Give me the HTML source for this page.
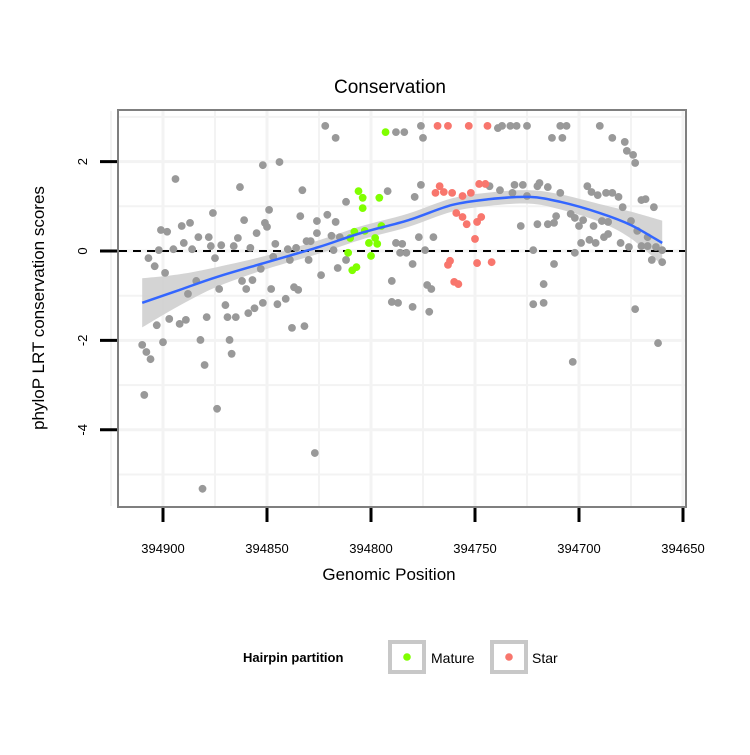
<!DOCTYPE html>
<html><head><meta charset="utf-8"><style>
body{margin:0;background:#fff;}
svg text{font-family:"Liberation Sans",sans-serif;}
</style></head><body>
<svg id="c" width="750" height="750" xmlns="http://www.w3.org/2000/svg">
<rect width="750" height="750" fill="#fff"/>
<g id="grid"></g>
<g id="band"></g>
<g id="pts"></g>
<g id="fit"></g>
<rect x="118" y="110" width="568" height="397" fill="none" stroke="#7f7f7f" stroke-width="2"/>
<g id="axes"></g>
<text x="390" y="93" font-size="19" text-anchor="middle">Conservation</text>
<text x="389" y="580" font-size="17" text-anchor="middle">Genomic Position</text>
<text transform="translate(44,308) rotate(-90)" font-size="17" text-anchor="middle">phyloP LRT conservation scores</text>
<g>
<text x="243" y="662" font-size="13" font-weight="bold">Hairpin partition</text>
<g>
<rect x="390" y="642" width="34" height="30" fill="#fff" stroke="#c8c8c8" stroke-width="4"/>
<circle cx="407" cy="657" r="3.8" fill="#80ff00"/>
<text x="431" y="663" font-size="14">Mature</text></g>
<g>
<rect x="492" y="642" width="34" height="30" fill="#fff" stroke="#c8c8c8" stroke-width="4"/>
<circle cx="509" cy="657" r="3.8" fill="#f8766d"/>
<text x="532" y="663" font-size="14">Star</text></g>
</g>
</svg>
<script>
const greyPos=[394822,394817,394788,394784,394894,394852,394844,394863,394833,394792,394812,394876,394849,394834,394861,394821,394826,394817,394901,394898,394891,394887,394851,394850,394855,394883,394878,394864,394890,394872,394866,394846,394826,394819,394815,394902,394895,394886,394877,394858,394840,394836,394831,394829,394907,394875,394847,394839,394830,394818,394904,394853,394812,394816,394899,394824,394884,394862,394857,394873,394860,394848,394837,394835,394888,394790,394788,394785,394786,394790,394787,394870,394852,394856,394859,394845,394841,394903,394897,394892,394889,394879,394869,394865,394838,394832,394910,394908,394906,394900,394882,394868,394867,394880,394909,394874,394827,394881,
394776,394775,394739,394737,394733,394730,394725,394709,394706,394690,394713,394708,394684,394678,394677,394674,394673,394776,394779,394743,394738,394731,394727,394720,394719,394715,394725,394732,394709,394696,394694,394691,394687,394684,394681,394679,394670,394668,394664,394728,394720,394715,394712,394711,394704,394702,394700,394698,394693,394689,394686,394675,394672,394667,394777,394770,394699,394695,394692,394688,394686,394680,394676,394670,394667,394663,394660,394665,394660,394783,394774,394722,394702,394780,394712,394773,394771,394717,394780,394772,394722,394717,394673,394662,394703];
const greyScore=[2.80,2.53,2.66,2.66,1.61,1.92,1.99,1.43,1.36,1.34,1.10,0.85,0.92,0.78,0.69,0.81,0.67,0.65,0.47,0.43,0.56,0.63,0.63,0.54,0.40,0.31,0.31,0.29,0.18,0.13,0.11,0.16,0.40,0.34,0.31,0.02,0.04,0.04,0.11,0.07,0.04,0.07,0.22,0.22,-0.16,-0.16,-0.13,-0.20,-0.20,0.02,-0.34,-0.40,-0.20,-0.38,-0.49,-0.54,-0.67,-0.67,-0.65,-0.85,-0.85,-0.85,-0.81,-0.87,-0.96,-0.67,0.18,0.16,-0.04,-1.14,-1.16,-1.21,-1.16,-1.28,-1.39,-1.19,-1.07,-1.66,-1.52,-1.63,-1.54,-1.48,-1.48,-1.48,-1.72,-1.68,-2.10,-2.26,-2.42,-2.04,-1.99,-1.99,-2.30,-2.55,-3.22,-3.53,-4.52,-5.32,
2.80,2.53,2.75,2.80,2.80,2.80,2.80,2.80,2.80,2.80,2.53,2.53,2.53,2.44,2.24,2.15,1.97,1.48,1.21,1.45,1.36,1.48,1.48,1.45,1.52,1.43,1.23,1.30,1.30,1.45,1.32,1.25,1.30,1.30,1.21,0.98,1.14,1.16,0.98,0.56,0.60,0.60,0.63,0.78,0.83,0.74,0.56,0.69,0.56,0.67,0.65,0.67,0.45,0.31,0.31,0.31,0.18,0.25,0.18,0.31,0.38,0.18,0.09,0.11,0.11,0.09,0.02,-0.20,-0.25,-0.04,0.02,0.02,-0.04,-0.29,-0.29,-0.76,-0.85,-0.74,-1.25,-1.36,-1.19,-1.16,-1.30,-2.06,-2.48];
const maturePos=[394806,394804,394804,394796,394793,394795,394808,394803,394810,394798,394801,394797,394800,394811,394807,394809];
const matureScore=[1.34,1.19,0.96,1.19,2.66,0.56,0.43,0.45,0.29,0.29,0.18,0.16,-0.11,-0.04,-0.36,-0.43];
const starPos=[394768,394763,394753,394744,394767,394769,394765,394761,394756,394752,394748,394745,394759,394756,394754,394749,394747,394750,394762,394763,394749,394742,394760,394758];
const starScore=[2.80,2.80,2.80,2.80,1.45,1.30,1.32,1.30,1.23,1.30,1.50,1.50,0.85,0.76,0.60,0.65,0.76,0.27,-0.22,-0.31,-0.27,-0.25,-0.69,-0.74];
const fitPos=[394910,394892,394874,394850,394825,394805,394782,394761,394743,394724,394709,394690,394675,394660];
const fitVal=[-1.16,-0.87,-0.58,-0.25,0.09,0.40,0.69,1.03,1.16,1.21,1.10,0.85,0.58,0.18];
const fitSe=[0.55,0.35,0.22,0.15,0.15,0.15,0.15,0.15,0.15,0.15,0.17,0.2,0.3,0.5];
const xTicks=[394900,394850,394800,394750,394700,394650];
const yTicks=[2,0,-2,-4];

const NS="http://www.w3.org/2000/svg";
const X=p=>163+(394900-p)*2.08;
const Y=s=>251-s*44.7;
function mk(tag,attrs,parent){const e=document.createElementNS(NS,tag);for(const k in attrs)e.setAttribute(k,attrs[k]);document.getElementById(parent).appendChild(e);return e;}
function smooth(pts){let d='M'+pts[0][0]+','+pts[0][1];for(let i=0;i<pts.length-1;i++){const p0=pts[Math.max(0,i-1)],p1=pts[i],p2=pts[i+1],p3=pts[Math.min(pts.length-1,i+2)];
const c1=[p1[0]+(p2[0]-p0[0])/6,p1[1]+(p2[1]-p0[1])/6],c2=[p2[0]-(p3[0]-p1[0])/6,p2[1]-(p3[1]-p1[1])/6];
d+=' C'+c1[0]+','+c1[1]+' '+c2[0]+','+c2[1]+' '+p2[0]+','+p2[1];}return d;}

for(let p=394925;p>=394650;p-=25){const e=mk('line',{x1:X(p),x2:X(p),y1:111,y2:506,stroke:'#f3f3f3','stroke-width':p%50===0?3:2},'grid');

}
for(let s=3;s>=-5;s-=1){const e=mk('line',{x1:119,x2:685,y1:Y(s),y2:Y(s),stroke:'#f3f3f3','stroke-width':s%2===0?3:2},'grid');

}

const upP=fitPos.map((p,i)=>[X(p),Y(fitVal[i]+fitSe[i])]);
const loP=fitPos.map((p,i)=>[X(p),Y(fitVal[i]-fitSe[i])]).reverse();
const bd=smooth(upP)+' L'+loP[0][0]+','+loP[0][1]+smooth(loP).replace(/^M[^ ]+/,'')+' Z';
const band=mk('path',{d:bd,fill:'#cccccc','fill-opacity':0.85},'band');



const z=mk('line',{x1:119,x2:685,y1:Y(0),y2:Y(0),stroke:'#000','stroke-width':2,'stroke-dasharray':'8,6'},'band');



function pts(P,S,col,name){P.forEach((p,i)=>{const c=mk('circle',{cx:X(p),cy:Y(S[i]),r:3.9,fill:col},'pts');

});}
pts(greyPos,greyScore,'#999999','point-other');
pts(maturePos,matureScore,'#80ff00','point-mature');
pts(starPos,starScore,'#f8766d','point-star');

const fl=mk('path',{d:smooth(fitPos.map((p,i)=>[X(p),Y(fitVal[i])])),fill:'none',stroke:'#3366ff','stroke-width':2.5},'fit');



xTicks.forEach(t=>{const l=mk('line',{x1:X(t),x2:X(t),y1:508,y2:522,stroke:'#000','stroke-width':3},'axes');


const tx=mk('text',{x:X(t),y:553,'font-size':13,'text-anchor':'middle'},'axes');tx.textContent=t;

});
yTicks.forEach(t=>{const l=mk('line',{x1:100,x2:117,y1:Y(t),y2:Y(t),stroke:'#000','stroke-width':3},'axes');


const tx=mk('text',{transform:'translate(87,'+Y(t)+') rotate(-90)','font-size':13,'text-anchor':'middle'},'axes');tx.textContent=t;

});
</script>
</body></html>
